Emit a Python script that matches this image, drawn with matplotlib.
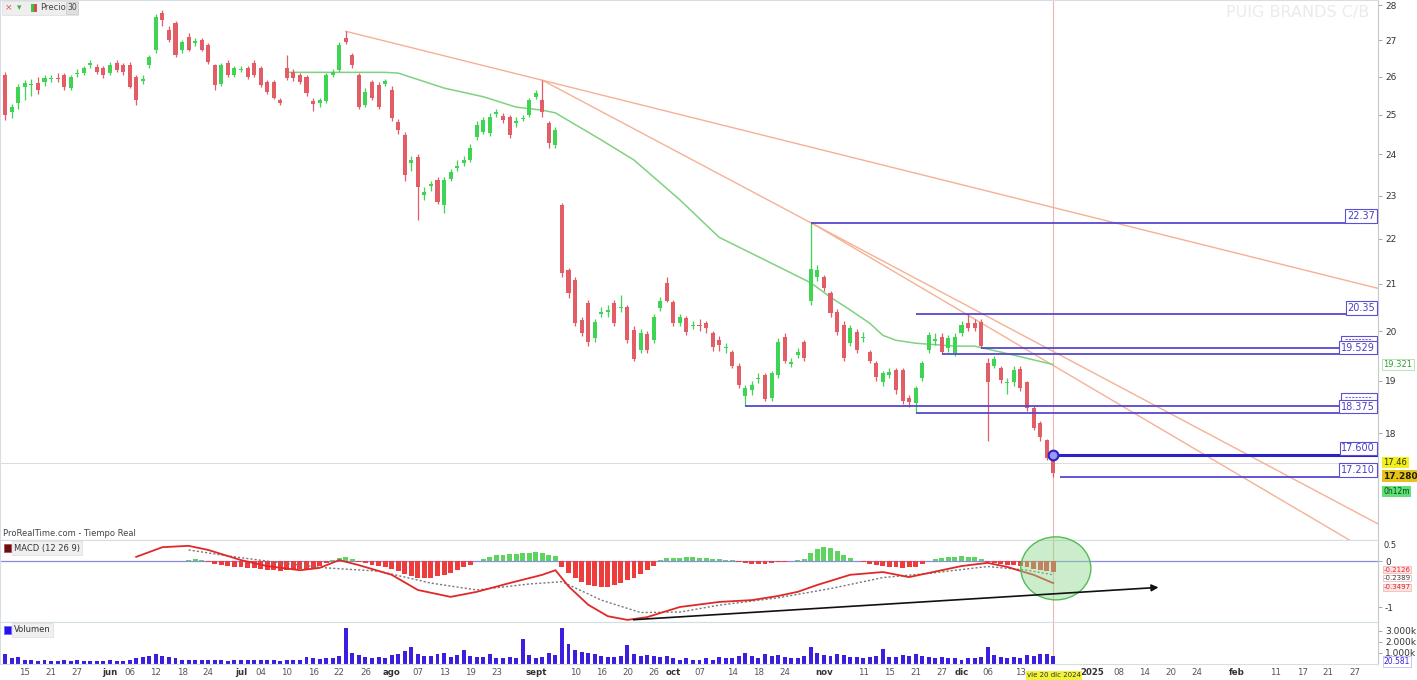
import numpy as np
import pandas as pd
import matplotlib
matplotlib.use("Agg")
import matplotlib.pyplot as plt
from matplotlib.patches import Ellipse, Rectangle
from matplotlib.transforms import blended_transform_factory

# ---------------- data ----------------
holidays = ["2024-12-25", "2024-12-26", "2025-01-01"]
calendar = pd.bdate_range("2024-05-10", "2025-02-28", freq="C", holidays=holidays)

open_ = [
    26.05, 25.07, 25.31, 25.73, 25.78, 25.84, 25.86, 25.95, 25.97, 26.05,
    25.70, 26.08, 26.10, 26.33, 26.27, 26.24, 26.10, 26.38, 26.32, 26.32,
    25.99, 25.90, 26.32, 26.73, 27.77, 27.29, 27.49, 26.73, 27.10, 26.93,
    27.01, 26.87, 26.32, 25.81, 26.38, 26.05, 26.18, 26.24, 26.38, 26.24,
    25.86, 25.86, 25.39, 26.24, 26.13, 26.05, 25.99, 25.36, 25.31, 25.36,
    26.05, 26.18, 27.07, 26.59, 26.05, 25.25, 25.86, 25.78, 25.82, 25.65,
    24.82, 24.48, 23.78, 23.93, 23.01, 23.22, 23.37, 22.78, 23.40, 23.66,
    23.79, 23.86, 24.43, 24.56, 24.53, 25.02, 24.97, 24.95, 24.78, 24.90,
    25.00, 25.47, 25.39, 24.79, 24.23, 22.78, 21.30, 21.08, 20.22, 20.58,
    19.85, 20.36, 20.40, 20.58, 20.48, 20.50, 20.02, 19.61, 19.94, 19.81,
    20.48, 21.02, 20.60, 20.16, 20.27, 20.10, 20.12, 20.16, 19.96, 19.81,
    19.65, 19.57, 19.30, 18.71, 18.81, 19.03, 19.11, 18.67, 19.11, 19.87,
    19.34, 19.52, 19.77, 20.64, 21.14, 21.14, 20.80, 20.39, 20.12, 19.75,
    19.98, 19.85, 19.57, 19.36, 18.97, 19.11, 19.21, 19.21, 18.67, 18.56,
    19.05, 19.61, 19.80, 19.87, 19.65, 19.55, 19.96, 20.16, 20.16, 20.18,
    19.36, 19.30, 19.26, 18.95, 18.97, 19.24, 18.97, 18.48, 18.18, 17.87,
    17.58]
close = [
    25.00, 25.20, 25.73, 25.84, 25.80, 25.65, 25.97, 25.97, 25.94, 25.73,
    26.00, 26.10, 26.24, 26.35, 26.13, 26.05, 26.32, 26.19, 26.13, 25.73,
    25.39, 25.95, 26.53, 27.65, 27.57, 27.01, 26.59, 26.95, 26.73, 26.97,
    26.73, 26.40, 25.78, 26.32, 26.05, 26.24, 26.20, 25.99, 26.05, 25.78,
    25.60, 25.44, 25.31, 25.97, 25.97, 25.86, 25.57, 25.28, 25.39, 26.05,
    26.13, 26.87, 26.95, 26.32, 25.20, 25.60, 25.44, 25.20, 25.88, 24.92,
    24.61, 23.49, 23.85, 23.20, 23.08, 23.28, 22.85, 23.37, 23.56, 23.72,
    23.86, 24.16, 24.74, 24.87, 24.95, 25.06, 24.87, 24.48, 24.84, 24.93,
    25.39, 25.57, 25.07, 24.28, 24.61, 21.23, 20.80, 20.16, 19.96, 19.77,
    20.18, 20.40, 20.43, 20.16, 20.50, 19.81, 19.44, 19.96, 19.61, 20.29,
    20.64, 20.64, 20.16, 20.29, 19.98, 20.13, 20.10, 20.06, 19.67, 19.71,
    19.68, 19.30, 18.91, 18.85, 18.91, 19.06, 18.65, 19.15, 19.77, 19.40,
    19.37, 19.58, 19.46, 21.32, 21.30, 20.90, 20.37, 19.98, 19.46, 20.06,
    19.61, 19.88, 19.40, 19.07, 19.15, 19.17, 18.81, 18.61, 18.58, 18.85,
    19.36, 19.91, 19.83, 19.57, 19.85, 19.87, 20.12, 20.06, 20.06, 19.70,
    18.97, 19.44, 19.01, 18.98, 19.21, 18.85, 18.48, 18.10, 17.92, 17.55,
    17.28]
high = [
    26.12, 25.28, 25.81, 25.92, 25.95, 26.00, 26.05, 26.05, 26.10, 26.10,
    26.05, 26.20, 26.30, 26.45, 26.35, 26.30, 26.40, 26.45, 26.38, 26.40,
    26.05, 26.05, 26.60, 27.75, 27.86, 27.40, 27.55, 27.00, 27.20, 27.05,
    27.05, 26.92, 26.35, 26.38, 26.45, 26.30, 26.28, 26.30, 26.45, 26.30,
    25.92, 25.92, 25.45, 26.59, 26.20, 26.10, 26.05, 25.45, 25.45, 26.10,
    26.20, 26.95, 27.25, 26.65, 26.10, 25.70, 25.92, 25.85, 25.95, 25.75,
    24.90, 24.55, 23.95, 24.00, 23.20, 23.35, 23.45, 23.45, 23.65, 23.85,
    23.95, 24.25, 24.85, 24.95, 25.05, 25.15, 25.05, 25.00, 24.95, 25.00,
    25.45, 25.65, 25.91, 24.85, 24.70, 22.82, 21.35, 21.15, 20.30, 20.65,
    20.25, 20.50, 20.55, 20.65, 20.75, 20.55, 20.10, 20.05, 20.00, 20.35,
    20.72, 21.15, 20.65, 20.35, 20.32, 20.20, 20.25, 20.20, 20.00, 19.90,
    19.75, 19.62, 19.35, 18.92, 19.00, 19.15, 19.15, 19.20, 19.85, 19.95,
    19.45, 19.65, 19.82, 22.37, 21.40, 21.20, 20.85, 20.45, 20.20, 20.12,
    20.05, 19.98, 19.62, 19.40, 19.20, 19.25, 19.25, 19.25, 18.72, 18.90,
    19.40, 19.98, 19.95, 19.95, 19.92, 19.95, 20.20, 20.35, 20.25, 20.25,
    19.45, 19.50, 19.30, 19.05, 19.30, 19.30, 19.00, 18.52, 18.22, 17.90,
    17.60]
low = [
    24.87, 24.92, 25.15, 25.39, 25.50, 25.55, 25.75, 25.85, 25.85, 25.65,
    25.65, 26.00, 26.05, 26.25, 26.08, 25.98, 26.05, 26.12, 26.05, 25.70,
    25.25, 25.80, 26.25, 26.65, 27.40, 26.95, 26.55, 26.65, 26.70, 26.85,
    26.70, 26.35, 25.65, 25.75, 26.00, 26.00, 26.12, 25.95, 26.00, 25.72,
    25.55, 25.40, 25.25, 25.92, 25.90, 25.80, 25.50, 25.10, 25.20, 25.30,
    26.00, 26.12, 26.90, 26.25, 25.15, 25.20, 25.38, 25.15, 25.75, 24.85,
    24.50, 23.35, 23.60, 22.43, 22.90, 23.10, 22.80, 22.59, 23.35, 23.60,
    23.72, 23.80, 24.35, 24.50, 24.45, 24.95, 24.80, 24.42, 24.70, 24.85,
    24.95, 25.40, 24.95, 24.15, 24.15, 21.15, 20.70, 20.10, 19.90, 19.70,
    19.78, 20.30, 20.30, 20.10, 20.40, 19.75, 19.40, 19.55, 19.55, 19.75,
    20.42, 20.60, 20.10, 20.10, 19.92, 20.05, 20.00, 19.95, 19.60, 19.60,
    19.55, 19.25, 18.85, 18.52, 18.72, 18.95, 18.60, 18.60, 19.05, 19.35,
    19.28, 19.45, 19.40, 20.55, 21.05, 20.85, 20.30, 19.92, 19.40, 19.70,
    19.55, 19.78, 19.35, 19.00, 18.90, 19.05, 18.75, 18.55, 18.50, 18.375,
    19.00, 19.55, 19.72, 19.529, 19.58, 19.50, 19.90, 20.00, 20.00, 19.65,
    17.85, 19.25, 18.95, 18.75, 18.90, 18.80, 18.42, 18.05, 17.85, 17.50,
    17.21]

# moving average (green line), read points
ma_idx = [43, 58, 60, 67, 73, 78, 82, 84, 91, 96, 103, 109, 116, 123, 126, 129,
          132, 134, 136, 139, 145, 148, 152, 160]
ma_val = [26.12, 26.12, 26.10, 25.70, 25.47, 25.20, 25.12, 25.05, 24.36, 23.86,
          22.90, 22.03, 21.52, 21.02, 20.71, 20.44, 20.16, 19.91, 19.81, 19.75,
          19.69, 19.69, 19.57, 19.32]

# MACD line & signal, read points
macd_idx = [20, 24, 28, 31, 36, 40, 45, 48, 51, 54, 59, 63, 68, 72, 77, 82, 84,
            86, 89, 92, 95, 98, 103, 109, 114, 118, 121, 124, 129, 134, 138, 141,
            146, 150, 153, 157, 160]
macd_val = [0.09, 0.30, 0.33, 0.24, 0.02, -0.11, -0.20, -0.15, 0.02, -0.09, -0.30,
            -0.63, -0.78, -0.67, -0.48, -0.30, -0.20, -0.55, -0.95, -1.20, -1.28,
            -1.22, -1.00, -0.89, -0.85, -0.76, -0.67, -0.52, -0.30, -0.24, -0.35,
            -0.26, -0.11, -0.04, -0.13, -0.30, -0.48]
signal_idx = [28, 34, 42, 49, 57, 65, 72, 80, 85, 91, 97, 103, 109, 118, 126, 134,
              141, 150, 156, 160]
signal_val = [0.24, 0.11, -0.04, -0.15, -0.22, -0.48, -0.63, -0.50, -0.45, -0.85,
              -1.12, -1.11, -0.96, -0.80, -0.60, -0.36, -0.27, -0.12, -0.20, -0.30]

hist_start = 28
hist_val = [
    0.03, 0.04, 0.02, -0.02, -0.06, -0.08, -0.10, -0.12, -0.13, -0.15,
    -0.16, -0.17, -0.19, -0.20, -0.21, -0.20, -0.19, -0.18, -0.17, -0.15,
    -0.10, -0.05, 0.02, 0.06, 0.08, 0.05, -0.02, -0.05, -0.08, -0.10,
    -0.14, -0.18, -0.22, -0.28, -0.33, -0.36, -0.37, -0.36, -0.33, -0.30,
    -0.25, -0.20, -0.14, -0.08, 0.00, 0.05, 0.09, 0.12, 0.14, 0.15,
    0.16, 0.17, 0.18, 0.19, 0.18, 0.14, 0.10, -0.12, -0.25, -0.38,
    -0.45, -0.52, -0.55, -0.57, -0.56, -0.52, -0.48, -0.42, -0.36, -0.28,
    -0.20, -0.10, 0.02, 0.06, 0.07, 0.07, 0.08, 0.08, 0.07, 0.06,
    0.05, 0.04, 0.03, 0.02, -0.02, -0.05, -0.06, -0.06, -0.06, -0.05,
    -0.03, -0.02, -0.01, 0.02, 0.05, 0.18, 0.27, 0.30, 0.28, 0.22,
    0.12, 0.06, 0.01, -0.03, -0.06, -0.09, -0.11, -0.13, -0.14, -0.15,
    -0.14, -0.12, -0.06, 0.01, 0.04, 0.06, 0.08, 0.09, 0.10, 0.09,
    0.08, 0.05, -0.02, -0.04, -0.06, -0.08, -0.09, -0.11, -0.14, -0.17,
    -0.20, -0.22, -0.24]

volume_k = [
    900, 500, 600, 400, 350, 300, 350, 300, 300, 350,
    300, 350, 300, 300, 300, 300, 350, 300, 300, 400,
    500, 600, 700, 900, 700, 600, 500, 400, 400, 350,
    350, 400, 350, 350, 300, 350, 400, 350, 400, 350,
    350, 350, 300, 400, 350, 350, 600, 500, 450, 500,
    550, 700, 3300, 1000, 800, 600, 500, 600, 500, 800,
    900, 1200, 1500, 900, 700, 700, 900, 1000, 600, 800,
    1300, 700, 600, 600, 900, 500, 500, 600, 500, 2300,
    800, 500, 600, 1000, 800, 3300, 1800, 1300, 1100, 1000,
    900, 700, 600, 600, 700, 1700, 900, 700, 800, 700,
    600, 700, 500, 400, 500, 400, 400, 500, 400, 600,
    500, 500, 700, 1000, 700, 500, 900, 700, 800, 600,
    500, 500, 700, 1500, 1000, 800, 700, 900, 800, 600,
    600, 500, 600, 700, 1400, 600, 600, 800, 700, 900,
    700, 600, 500, 600, 500, 500, 400, 500, 500, 600,
    1500, 800, 600, 500, 600, 500, 800, 700, 900, 900,
    700]

# trend lines (start idx, start price, end idx, end price)
trend_lines = [(52, 27.25, 209.6, 20.90),
               (82, 25.91, 209.6, 16.39),
               (123, 22.37, 209.6, 15.84)]
# horizontal levels (start idx, price, label); empty label = box hidden behind the next one
levels = [(123, 22.37, "22.37"), (139, 20.35, "20.35"), (149, 19.65, ""),
          (143, 19.529, "19.529"), (113, 18.52, ""), (139, 18.375, "18.375"),
          (160, 17.60, "17.600"), (161, 17.21, "17.210")]

tick_dates = ["2024-05-15", "2024-05-21", "2024-05-27", "2024-06-03", "2024-06-06",
              "2024-06-12", "2024-06-18", "2024-06-24", "2024-07-01", "2024-07-04",
              "2024-07-10", "2024-07-16", "2024-07-22", "2024-07-26", "2024-08-01",
              "2024-08-07", "2024-08-13", "2024-08-19", "2024-08-23", "2024-09-02",
              "2024-09-10", "2024-09-16", "2024-09-20", "2024-09-26", "2024-10-01",
              "2024-10-07", "2024-10-14", "2024-10-18", "2024-10-24", "2024-11-01",
              "2024-11-11", "2024-11-15", "2024-11-21", "2024-11-27", "2024-12-02",
              "2024-12-06", "2024-12-13", "2025-01-02", "2025-01-08", "2025-01-14",
              "2025-01-20", "2025-01-24", "2025-02-03", "2025-02-11", "2025-02-17",
              "2025-02-21", "2025-02-27"]
tick_labels = ["15", "21", "27", "jun", "06", "12", "18", "24", "jul", "04", "10", "16",
               "22", "26", "ago", "07", "13", "19", "23", "sept", "10", "16", "20", "26",
               "oct", "07", "14", "18", "24", "nov", "11", "15", "21", "27", "dic", "06",
               "13", "2025", "08", "14", "20", "24", "feb", "11", "17", "21", "27"]
month_labels = {"jun", "jul", "ago", "sept", "oct", "nov", "dic", "2025", "feb"}

# ---------------- figure ----------------
W, H = 1417, 680
fig = plt.figure(figsize=(W / 100, H / 100), dpi=100)
fig.patch.set_facecolor("white")


def rect(x0, y0, x1, y1):
    return [x0 / W, 1 - y1 / H, (x1 - x0) / W, (y1 - y0) / H]


ax_p = fig.add_axes(rect(0, 0, 1378, 540))
ax_m = fig.add_axes(rect(0, 540, 1378, 622), sharex=ax_p)
ax_v = fig.add_axes(rect(0, 622, 1378, 664), sharex=ax_p)

x = np.arange(len(close))
O = np.array(open_); C = np.array(close); Hh = np.array(high); Ll = np.array(low)
up = C >= O
GREEN, RED = "#3fd453", "#e35d66"
cols = np.where(up, GREEN, RED)

for ax in (ax_p, ax_m, ax_v):
    ax.set_facecolor("white")
    for s in ("top", "left", "bottom"):
        ax.spines[s].set_color("#d5dde6")
        ax.spines[s].set_linewidth(0.8)
    ax.spines["right"].set_color("#c8c8c8")
    ax.yaxis.tick_right()
    ax.tick_params(axis="y", which="both", length=3, width=0.6, colors="#999999",
                   labelsize=6.5, labelcolor="#333333", pad=2)
    ax.tick_params(axis="x", which="both", length=0)

xmin, xmax = 16 - 110 / 6.55, 16 + 1268 / 6.55
ax_p.set_xlim(xmin, xmax)

# price panel
ax_p.set_yscale("log")
ax_p.set_ylim(16.12, 28.145)
ax_p.yaxis.set_major_locator(matplotlib.ticker.FixedLocator(list(range(18, 29))))
ax_p.yaxis.set_major_formatter(matplotlib.ticker.FixedFormatter([str(v) for v in range(18, 29)]))
ax_p.yaxis.set_minor_locator(matplotlib.ticker.NullLocator())
ax_p.tick_params(axis="x", labelbottom=False)

# crosshair
ax_p.axhline(17.46, color="#dddddd", lw=0.8, zorder=0)
for ax in (ax_p, ax_m, ax_v):
    ax.axvline(160, color="#f3b4b0", lw=0.8, zorder=0)

# trend lines
for (x0, y0, x1, y1) in trend_lines:
    ax_p.plot([x0, x1], [y0, y1], color="#f6b093", lw=1.0, zorder=1)

# moving average
ax_p.plot(ma_idx, ma_val, color="#7fd27f", lw=1.1, zorder=2)

# candles
ax_p.vlines(x, Ll, Hh, colors=cols, lw=0.9, zorder=3)
ax_p.bar(x, np.maximum(np.abs(C - O), 0.03), bottom=np.minimum(O, C), width=0.62,
         color=cols, zorder=4, linewidth=0)

# horizontal levels
lab_x1 = 16 + (1375 - 110) / 6.55
lab_x0 = 16 + (1341 - 110) / 6.55
for (xs, pv, lab) in levels:
    lw = 2.2 if lab == "17.600" else 1.3
    colr = "#2b22c8" if lab == "17.600" else "#5548d0"
    ax_p.plot([xs, xmax], [pv, pv], color=colr, lw=lw, zorder=5, solid_capstyle="butt")
    if lab:
        ax_p.text(lab_x1, pv * 1.0015, lab, ha="right", va="bottom", fontsize=7, color="#4a3fc8",
                  zorder=6, bbox=dict(boxstyle="square,pad=0.18", fc="white", ec="#5a50d0", lw=0.8))
    else:
        ax_p.add_patch(Rectangle((lab_x0, pv * 1.001), lab_x1 - lab_x0 + 0.3, pv * 0.012,
                                 fc="white", ec="#5a50d0", lw=0.8, zorder=6))
        ax_p.plot([lab_x0 + 0.6, lab_x1 - 0.5], [pv * 1.009, pv * 1.009], color="#7a70d8",
                  lw=0.8, ls=(0, (2, 1)), zorder=6)
ax_p.plot([160], [17.60], marker="o", ms=7, mfc="#9a9af5", mec="#2b22c8", mew=1.5, zorder=7)

# right side value labels
trp = blended_transform_factory(ax_p.transAxes, ax_p.transData)
ax_p.text(1.004, 19.321, "19.321", transform=trp, fontsize=6, color="#35a035", va="center",
          ha="left", clip_on=False,
          bbox=dict(boxstyle="square,pad=0.15", fc="white", ec="#a8e0a8", lw=0.6))
ax_p.text(1.004, 17.46, "17.46", transform=trp, fontsize=6, color="#333300", va="center",
          ha="left", clip_on=False, bbox=dict(boxstyle="square,pad=0.15", fc="#f0f020", ec="none"))
ax_p.text(1.004, 17.22, "17.280", transform=trp, fontsize=6.5, color="#222200", va="center",
          ha="left", clip_on=False, fontweight="bold",
          bbox=dict(boxstyle="square,pad=0.18", fc="#e6c21a", ec="none"))
ax_p.text(1.004, 16.95, "0h12m", transform=trp, fontsize=5.5, color="#114411", va="center",
          ha="left", clip_on=False, bbox=dict(boxstyle="square,pad=0.15", fc="#5fe07a", ec="none"))

# watermark
ax_p.text(0.994, 0.99, "PUIG BRANDS C/B", transform=ax_p.transAxes, ha="right", va="top",
          fontsize=11.5, color="#ebebeb", zorder=0)

# MACD panel
ax_m.set_ylim(-1.326, 0.4565)
hv = np.array(hist_val)
hx = np.arange(hist_start, hist_start + len(hv))
ax_m.bar(hx, hv, width=0.75, color=np.where(hv >= 0, "#5fd35f", "#ee3b3b"), linewidth=0, zorder=2)
ax_m.axhline(0, color="#8a8ae6", lw=0.9, zorder=1)
ax_m.plot(signal_idx, signal_val, color="#777777", lw=1.0, ls=(0, (1.5, 1.5)), zorder=3)
ax_m.plot(macd_idx, macd_val, color="#e02828", lw=1.3, zorder=4)
ax_m.set_yticks([0, -1])
ax_m.set_yticklabels(["0", "-1"])
trm = blended_transform_factory(ax_m.transAxes, ax_m.transData)
ax_m.text(1.004, 0.34, "0.5", transform=trm, fontsize=6, color="#333333", va="center", clip_on=False)
for val, lab, fc, tc in [(-0.19, "-0.2126", "#ffe4e4", "#e02828"),
                         (-0.37, "-0.2389", "white", "#444444"),
                         (-0.57, "-0.3497", "#ffe4e4", "#e02828")]:
    ax_m.text(1.004, val, lab, transform=trm, fontsize=5, color=tc, va="center", clip_on=False,
              bbox=dict(boxstyle="square,pad=0.05", fc=fc, ec="#f0b0b0", lw=0.5))
ax_m.tick_params(axis="x", labelbottom=False)
ell = Ellipse((160.4, -0.16), 10.7, 1.37, facecolor=(0.55, 0.85, 0.55, 0.45),
              edgecolor="#55bb55", lw=1.0, zorder=5, clip_on=False)
ax_m.add_patch(ell)
ax_m.annotate("", xy=(176.5, -0.57), xytext=(95.5, -1.28),
              arrowprops=dict(arrowstyle="-|>", color="#111111", lw=1.2, mutation_scale=10),
              zorder=6)

# Volume panel
ax_v.set_ylim(0, 3818)
ax_v.bar(x, volume_k, width=0.6, color="#3a1fe0", linewidth=0)
ax_v.set_yticks([1000, 2000, 3000])
ax_v.set_yticklabels(["1.000k", "2.000k", "3.000k"])
trv = blended_transform_factory(ax_v.transAxes, ax_v.transData)
ax_v.text(1.004, 250, "20.581", transform=trv, fontsize=5.5, color="#3a1fe0", va="center",
          clip_on=False, bbox=dict(boxstyle="square,pad=0.1", fc="white", ec="#b0b0f0", lw=0.5))

# x ticks
tick_pos = [calendar.get_loc(pd.Timestamp(d)) for d in tick_dates]
ax_v.set_xticks(tick_pos)
ax_v.set_xticklabels(tick_labels)
ax_v.tick_params(axis="x", labelsize=6.2, labelcolor="#555555", pad=3)
for t in ax_v.get_xticklabels():
    if t.get_text() in month_labels:
        t.set_fontweight("bold")
        t.set_color("#333333")
ax_v.text(160.1, -0.27, "vie 20 dic 2024",
          transform=blended_transform_factory(ax_v.transData, ax_v.transAxes),
          ha="center", va="center", fontsize=5.0, color="#333333", clip_on=False, zorder=10,
          bbox=dict(boxstyle="square,pad=0.2", fc="#f2f23a", ec="none"))

# panel texts
fig.text(3 / W, 1 - 534 / H, "ProRealTime.com - Tiempo Real", fontsize=6, color="#444444",
         va="center", ha="left")
fig.text(14 / W, 1 - 548 / H, "MACD (12 26 9)", fontsize=6, color="#333333", va="center", ha="left",
         bbox=dict(boxstyle="square,pad=0.25", fc="#f0f0f0", ec="#dddddd", lw=0.5))
fig.patches.append(Rectangle((4 / W, 1 - 552 / H), 7 / W, 8 / H, transform=fig.transFigure,
                             fc="#6a1010", ec="#aa4444", lw=0.5, zorder=10))
fig.text(14 / W, 1 - 630 / H, "Volumen", fontsize=6, color="#333333", va="center", ha="left",
         bbox=dict(boxstyle="square,pad=0.25", fc="#f0f0f0", ec="#dddddd", lw=0.5))
fig.patches.append(Rectangle((4 / W, 1 - 634 / H), 7 / W, 8 / H, transform=fig.transFigure,
                             fc="#2a10f0", ec="#6666ff", lw=0.5, zorder=10))

# top-left legend
fig.patches.append(Rectangle((2 / W, 1 - 15 / H), 76 / W, 14 / H, transform=fig.transFigure,
                             fc="#eeeeee", ec="#dddddd", lw=0.5, zorder=9))
fig.text(5 / W, 1 - 8 / H, "×", fontsize=6.5, color="#e05050", va="center", zorder=10)
fig.text(17 / W, 1 - 8 / H, "▾", fontsize=6.5, color="#40b040", va="center", zorder=10)
fig.patches.append(Rectangle((31 / W, 1 - 12 / H), 3 / W, 8 / H, transform=fig.transFigure,
                             fc="#40c040", ec="none", zorder=10))
fig.patches.append(Rectangle((34 / W, 1 - 12 / H), 3 / W, 8 / H, transform=fig.transFigure,
                             fc="#d05050", ec="none", zorder=10))
fig.text(40 / W, 1 - 8 / H, "Precio", fontsize=6, color="#444444", va="center", zorder=10)
fig.text(67 / W, 1 - 8 / H, "30", fontsize=5.5, color="#444444", va="center", zorder=10,
         bbox=dict(boxstyle="square,pad=0.15", fc="#e0e0e0", ec="#cccccc", lw=0.5))

fig.savefig("out.png", dpi=100, facecolor="white")
